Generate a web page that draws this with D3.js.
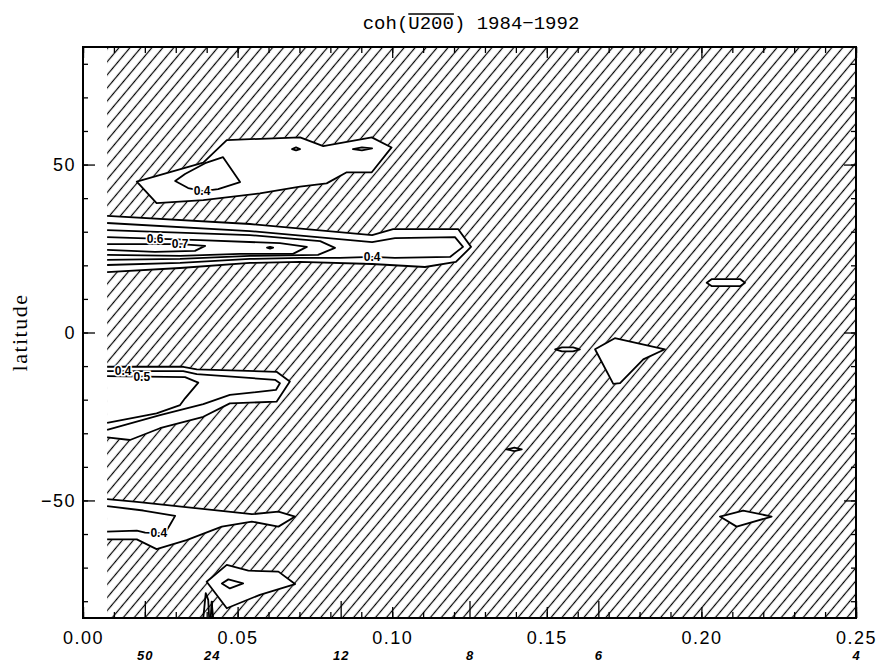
<!DOCTYPE html>
<html>
<head>
<meta charset="utf-8">
<script src="https://cdn.jsdelivr.net/npm/d3@7"></script>
<style>
  body { margin: 0; background: #fff; }
  svg { display: block; }
</style>
</head>
<body>
<svg id="chart" width="884" height="662"></svg>
<script>
// frequency (cycles / month) vs latitude, coherence contours
const freqStart = 1 / 128;           // first resolved frequency
const xTickValues = [0, 0.05, 0.10, 0.15, 0.20, 0.25];
const yTickValues = [-50, 0, 50];
const periods = [50, 24, 12, 8, 6, 4];

// contours: [frequency, latitude]
// level 0.3 is the outermost line, below it the field is hatched
const northOuter = [[0.0174,44.9],[0.0389,50.6],[0.0465,57.3],[0.0702,58.1],[0.0777,55.5],[0.0934,58.1],[0.0998,55.1],[0.0934,47.7],[0.0853,47.7],[0.0788,44.4],[0.0702,43.4],[0.0572,41.4],[0.0389,39.4],[0.0238,38.5]];
const northInner = [[0.0298,45.1],[0.0340,43.0],[0.0388,42.1],[0.0437,42.7],[0.0508,44.8],[0.0453,52.2],[0.0395,50.4],[0.0330,47.2]];
const northDot1 = [[0.0676,54.6],[0.0689,55.1],[0.0702,54.6],[0.0689,54.2]];
const northDot2 = [[0.0873,54.6],[0.0902,55.1],[0.0935,54.8],[0.0902,54.2]];

const tropN03 = [[0.0078,34.7],[0.0540,32.3],[0.0935,29.0],[0.1003,30.8],[0.1213,30.8],[0.1255,25.5],[0.1206,21.0],[0.1106,19.5],[0.0935,20.4],[0.0702,21.0],[0.0540,20.7],[0.0314,19.2],[0.0078,18.0]];
const tropN04 = [[0.0078,32.6],[0.0540,30.2],[0.0935,26.9],[0.1009,28.1],[0.1203,28.4],[0.1229,25.5],[0.1187,22.5],[0.1009,22.2],[0.0935,22.5],[0.0831,22.2],[0.0702,22.2],[0.0540,21.9],[0.0314,20.7],[0.0078,20.1]];
const tropN05 = [[0.0078,30.5],[0.0540,29.0],[0.0767,27.2],[0.0815,25.2],[0.0760,23.1],[0.0540,22.8],[0.0314,21.9],[0.0078,21.6]];
const tropN06 = [[0.0078,28.4],[0.0378,27.5],[0.0637,26.6],[0.0724,25.5],[0.0679,23.4],[0.0508,23.4],[0.0314,22.8],[0.0078,23.1]];
const tropN07 = [[0.0078,26.3],[0.0314,26.3],[0.0395,25.8],[0.0362,24.3],[0.0233,24.0],[0.0078,24.6]];
const tropNDot = [[0.0595,25.3],[0.0605,25.5],[0.0615,25.3],[0.0605,25.0]];

const tropS03 = [[0.0078,-10.2],[0.0324,-10.2],[0.0368,-11.0],[0.0626,-11.7],[0.0669,-14.6],[0.0626,-20.6],[0.0475,-21.1],[0.0389,-25.1],[0.0249,-28.5],[0.0152,-32.0],[0.0078,-31.2]];
const tropS04 = [[0.0078,-11.5],[0.0324,-11.5],[0.0368,-12.4],[0.0621,-14.1],[0.0637,-15.1],[0.0624,-17.1],[0.0475,-18.6],[0.0389,-21.3],[0.0249,-24.6],[0.0078,-29.0]];
const tropS05 = [[0.0078,-13.0],[0.0330,-13.3],[0.0373,-14.9],[0.0330,-19.6],[0.0314,-21.6],[0.0238,-24.1],[0.0078,-26.9]];

const southOuter = [[0.0078,-49.6],[0.0174,-50.4],[0.0546,-54.1],[0.0632,-53.3],[0.0686,-54.8],[0.0632,-57.8],[0.0546,-56.3],[0.0449,-57.8],[0.0335,-61.8],[0.0238,-64.5],[0.0174,-61.6],[0.0078,-61.6]];
const southInner = [[0.0078,-51.7],[0.0195,-53.0],[0.0298,-54.6],[0.0281,-57.3],[0.0265,-59.8],[0.0201,-59.6],[0.0174,-59.0],[0.0078,-59.3]];

const polarOuter = [[0.0400,-74.2],[0.0465,-69.2],[0.0535,-70.9],[0.0632,-71.2],[0.0686,-74.9],[0.0572,-78.1],[0.0465,-82.1]];
const polarInner = [[0.0449,-74.7],[0.0470,-73.5],[0.0518,-74.7],[0.0475,-76.2]];
const polarSpike1 = [[0.0389,-85],[0.0397,-77.6],[0.0405,-79.6],[0.0408,-85]];
const polarSpike2 = [[0.0413,-85],[0.0416,-80.1],[0.0421,-85]];

const eastLens1 = [[0.2017,14.8],[0.2034,15.9],[0.2125,15.9],[0.2141,14.8],[0.2125,13.8],[0.2034,13.8]];
const eastLens2 = [[0.1527,-5.0],[0.1549,-4.4],[0.1585,-4.4],[0.1607,-5.0],[0.1585,-5.6],[0.1549,-5.6]];
const eastPatch = [[0.1656,-5.0],[0.1720,-1.7],[0.1882,-5.0],[0.1812,-8.0],[0.1737,-15.1],[0.1715,-15.3]];
const eastDot = [[0.1370,-34.8],[0.1395,-34.3],[0.1419,-34.8],[0.1395,-35.3]];
const eastLens3 = [[0.2060,-54.8],[0.2135,-53.0],[0.2227,-54.8],[0.2114,-57.8]];

// outer (0.3) areas are cut out of the hatching
const fillAreas = [northOuter, northDot1, northDot2, tropN03, tropS03, southOuter, polarOuter,
  eastLens1, eastLens2, eastPatch, eastDot, eastLens3];
const closedLines = [northOuter, northInner, northDot1, northDot2, tropNDot, polarOuter, polarInner,
  eastLens1, eastLens2, eastPatch, eastDot, eastLens3];
const openLines = [tropN03, tropN04, tropN05, tropN06, tropN07, tropS03, tropS04, tropS05,
  southOuter, southInner, polarSpike1, polarSpike2];

const contourLabels = [
  { text: "0.4", at: [0.0385, 42.2] },
  { text: "0.6", at: [0.0233, 28.0] },
  { text: "0.7", at: [0.0314, 26.3] },
  { text: "0.4", at: [0.0935, 22.5] },
  { text: "0.4", at: [0.0130, -11.4] },
  { text: "0.5", at: [0.0190, -13.2] },
  { text: "0.4", at: [0.0245, -59.7] }
];

const svg = d3.select("#chart");
const x = d3.scaleLinear().domain([0, 0.25]).range([83, 856]);
const y = d3.scaleLinear().domain([-85, 85]).range([618, 47]);

const defs = svg.append("defs");
defs.append("clipPath").attr("id", "clip")
  .append("rect")
  .attr("x", x(0)).attr("y", y(85))
  .attr("width", x(0.25) - x(0)).attr("height", y(-85) - y(85));

const hatch = defs.append("pattern")
  .attr("id", "hatch")
  .attr("patternUnits", "userSpaceOnUse")
  .attr("width", 8.4).attr("height", 8.4)
  .attr("patternTransform", "rotate(40)");
hatch.append("line")
  .attr("x1", 4.2).attr("y1", -1).attr("x2", 4.2).attr("y2", 9.4)
  .attr("stroke", "#000").attr("stroke-width", 1.2);

const plot = svg.append("g").attr("clip-path", "url(#clip)");

plot.append("rect")
  .attr("x", x(freqStart)).attr("y", y(85))
  .attr("width", x(0.25) - x(freqStart)).attr("height", y(-85) - y(85))
  .attr("fill", "url(#hatch)");

const line = d3.line().x(d => x(d[0])).y(d => y(d[1]));

plot.selectAll(".area")
  .data(fillAreas)
  .enter().append("path")
  .attr("class", "area")
  .attr("d", d => line(d) + "Z")
  .attr("fill", "#fff")
  .attr("stroke", "#fff")
  .attr("stroke-width", 1);

plot.selectAll(".cline")
  .data(closedLines)
  .enter().append("path")
  .attr("class", "cline")
  .attr("d", d => line(d) + "Z")
  .attr("fill", "none")
  .attr("stroke", "#000")
  .attr("stroke-width", 1.8)
  .attr("stroke-linejoin", "round");

plot.selectAll(".oline")
  .data(openLines)
  .enter().append("path")
  .attr("class", "oline")
  .attr("d", d => line(d))
  .attr("fill", "none")
  .attr("stroke", "#000")
  .attr("stroke-width", 1.8)
  .attr("stroke-linejoin", "round");

plot.selectAll(".clabel")
  .data(contourLabels)
  .enter().append("text")
  .attr("class", "clabel")
  .attr("x", d => x(d.at[0]))
  .attr("y", d => y(d.at[1]))
  .attr("dy", "0.35em")
  .attr("text-anchor", "middle")
  .style("font", "bold 12px 'Liberation Sans', Arial, sans-serif")
  .style("paint-order", "stroke")
  .attr("stroke", "#fff")
  .attr("stroke-width", 3)
  .attr("fill", "#000")
  .text(d => d.text);

// axes, ticks point inwards
const minorX = d3.range(0, 0.2501, 0.01);
const minorY = d3.range(-80, 81, 10);

function styleAxis(g) {
  g.select(".domain").remove();
  g.selectAll(".tick line").attr("stroke", "#000").attr("stroke-width", 1.3);
}

const tickFont = "18px 'Liberation Sans', Arial, sans-serif";

svg.append("g").attr("transform", `translate(0,${y(-85)})`)
  .call(d3.axisBottom(x).tickValues(minorX).tickSize(-6).tickFormat(""))
  .call(styleAxis);
svg.append("g").attr("transform", `translate(0,${y(-85)})`)
  .call(d3.axisBottom(x).tickValues(xTickValues).tickSize(-11).tickPadding(13).tickFormat(d3.format(".2f")))
  .call(styleAxis)
  .call(g => g.selectAll("text").style("font", tickFont).style("letter-spacing", "1.5px"));
svg.append("g").attr("transform", `translate(0,${y(-85)})`)
  .call(d3.axisBottom(x).tickValues(periods.map(p => 1 / p)).tickSize(-17).tickPadding(33).tickFormat((d, i) => periods[i]))
  .call(styleAxis)
  .call(g => g.selectAll("text").style("font", "italic bold 13px 'Liberation Sans', Arial, sans-serif").style("letter-spacing", "1px"));

svg.append("g").attr("transform", `translate(0,${y(85)})`)
  .call(d3.axisTop(x).tickValues(minorX).tickSize(-6).tickFormat(""))
  .call(styleAxis);
svg.append("g").attr("transform", `translate(0,${y(85)})`)
  .call(d3.axisTop(x).tickValues(xTickValues).tickSize(-11).tickFormat(""))
  .call(styleAxis);

svg.append("g").attr("transform", `translate(${x(0)},0)`)
  .call(d3.axisLeft(y).tickValues(minorY).tickSize(-5).tickFormat(""))
  .call(styleAxis);
svg.append("g").attr("transform", `translate(${x(0)},0)`)
  .call(d3.axisLeft(y).tickValues(yTickValues).tickSize(-12).tickPadding(7))
  .call(styleAxis)
  .call(g => g.selectAll("text").style("font", tickFont).style("letter-spacing", "1.5px"));

svg.append("g").attr("transform", `translate(${x(0.25)},0)`)
  .call(d3.axisRight(y).tickValues(minorY).tickSize(-5).tickFormat(""))
  .call(styleAxis);
svg.append("g").attr("transform", `translate(${x(0.25)},0)`)
  .call(d3.axisRight(y).tickValues(yTickValues).tickSize(-12).tickFormat(""))
  .call(styleAxis);

// frame
svg.append("rect")
  .attr("x", x(0)).attr("y", y(85))
  .attr("width", x(0.25) - x(0)).attr("height", y(-85) - y(85))
  .attr("fill", "none").attr("stroke", "#000").attr("stroke-width", 2);

svg.append("text")
  .attr("transform", `translate(19,${y(0)}) rotate(-90)`)
  .attr("text-anchor", "middle")
  .attr("dy", "0.35em")
  .style("font", "22px 'Liberation Serif', 'Times New Roman', serif")
  .style("letter-spacing", "1.5px")
  .text("latitude");

// title with overbar on U200
const title = svg.append("text")
  .attr("x", 471).attr("y", 29)
  .attr("text-anchor", "middle")
  .style("font", "19px 'Liberation Mono', 'DejaVu Sans Mono', monospace")
  .text("coh(U200) 1984\u22121992");
const tnode = title.node();
const c0 = tnode.getExtentOfChar(4);
const c1 = tnode.getExtentOfChar(7);
svg.append("line")
  .attr("x1", c0.x).attr("x2", c1.x + c1.width)
  .attr("y1", c0.y + 1).attr("y2", c0.y + 1)
  .attr("stroke", "#000").attr("stroke-width", 1.5);
</script>
</body>
</html>
